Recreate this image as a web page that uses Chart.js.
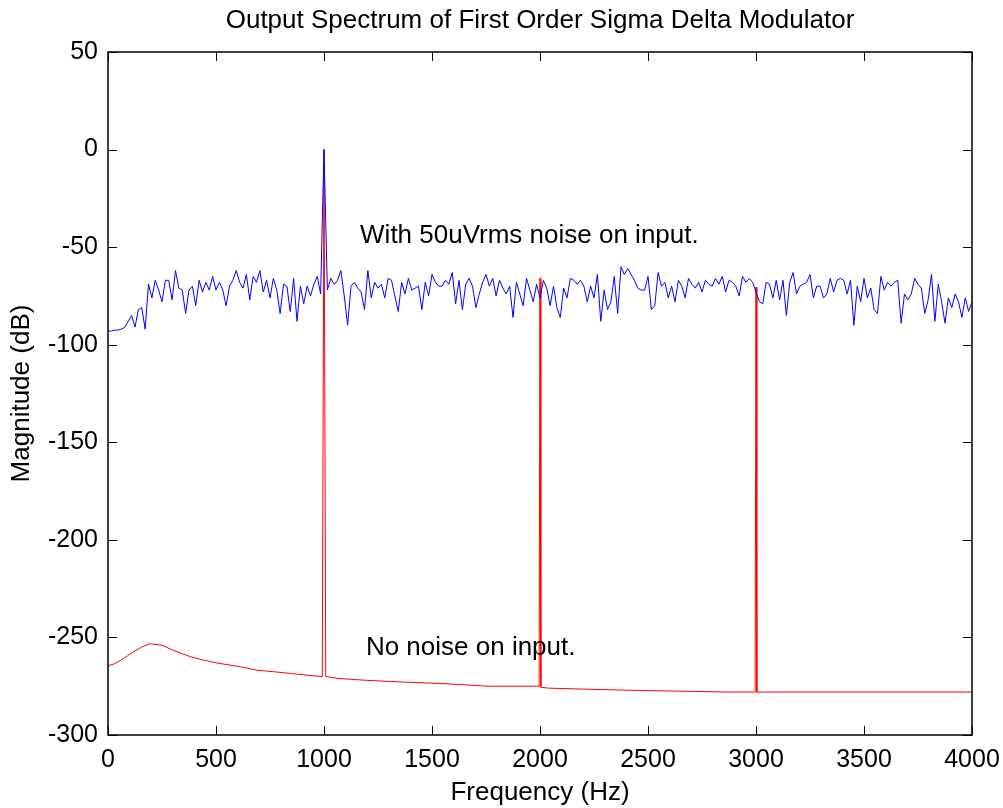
<!DOCTYPE html>
<html><head><meta charset="utf-8">
<script src="https://cdn.jsdelivr.net/npm/chart.js@4.4.0/dist/chart.umd.min.js"></script>
<style>html,body{margin:0;padding:0;background:#fff;}canvas{display:block;}</style>
</head><body>
<canvas id="c" width="1003" height="808"></canvas>
<script>
const TITLE = 'Output Spectrum of First Order Sigma Delta Modulator';
const X_LABEL = 'Frequency (Hz)';
const Y_LABEL = 'Magnitude (dB)';
const X_TICKS = [0, 500, 1000, 1500, 2000, 2500, 3000, 3500, 4000];
const Y_TICKS = [-300, -250, -200, -150, -100, -50, 0, 50];

// Blue trace: spectrum with 50uVrms input noise, one value per FFT bin
const BIN_HZ = 15.625;
const withNoiseDb = [
  -93,-93,-92.5,-92.5,-92,-91,-88,-85,-91,-82,
  -81,-92,-69,-76,-67,-72,-78,-67,-67,-77,
  -62,-71,-72,-84,-72,-70,-80,-67,-73,-68,
  -72,-65,-72,-68,-72,-80,-70,-67,-62,-68,
  -71,-64,-77,-65,-68,-62,-73,-67,-76,-66,
  -72,-84,-69,-70,-83,-66,-88,-70,-79,-70,
  -75,-69,-65,-74,0,-72,-66,-69,-67,-62,
  -75,-90,-70,-68,-71,-73,-82,-62,-76,-68,
  -71,-69,-76,-66,-67,-75,-83,-68,-74,-66,
  -72,-71,-70,-82,-68,-75,-64,-68,-70,-70,
  -67,-69,-63,-79,-67,-82,-69,-66,-70,-81,
  -74,-68,-64,-70,-66,-75,-67,-71,-74,-70,
  -86,-68,-74,-80,-66,-72,-78,-69,-76,-67,
  -71,-80,-70,-81,-86,-71,-76,-66,-67,-69,
  -67,-70,-78,-70,-76,-64,-88,-72,-82,-78,
  -65,-84,-60,-64,-61,-64,-67,-71,-72,-72,
  -65,-82,-80,-63,-70,-68,-76,-70,-78,-67,
  -70,-76,-66,-69,-71,-68,-73,-67,-69,-70,
  -66,-69,-65,-73,-67,-68,-70,-75,-65,-68,
  -66,-68,-73,-78,-79,-68,-69,-76,-67,-77,
  -67,-85,-68,-63,-74,-70,-69,-68,-64,-76,
  -70,-70,-76,-74,-66,-73,-67,-66,-67,-74,
  -67,-90,-70,-78,-66,-76,-71,-82,-84,-65,
  -72,-68,-70,-68,-67,-89,-74,-77,-74,-66,
  -69,-71,-84,-77,-64,-88,-69,-78,-89,-76,
  -81,-74,-78,-86,-76,-83,-78
];

// Red trace: spectrum with no input noise
const noNoiseHz = [0,30,70,115,155,195,250,290,335,380,430,500,610,690,770,850,950,992,1000,1008,
  1065,1200,1350,1540,1760,1996,2000,2004,2040,2385,2870,2996,3000,3004,4000];
const noNoiseDb = [-264.5,-263.5,-261,-257.5,-255,-253.2,-254,-256,-258,-259.8,-261.3,-263,-265,-266.8,-267.6,-268.5,-269.7,-270,0,-270,
  -271,-272,-272.8,-273.6,-275,-275,-66,-275.5,-276,-277,-278,-278,-70.5,-278,-278];

const ANNOTATIONS = [
  { text: 'With 50uVrms noise on input.', x: 1167, y: -44 },
  { text: 'No noise on input.', x: 1194, y: -255.5 }
];

const FONT = '"Liberation Sans", Arial, Helvetica, sans-serif';

const blueData = withNoiseDb.map((v, i) => ({ x: i * BIN_HZ, y: v }));
const redData = noNoiseHz.map((h, i) => ({ x: h, y: noNoiseDb[i] }));

const boxPlugin = {
  id: 'boxTicks',
  afterDraw(chart) {
    const { ctx, chartArea: a, scales: { x, y } } = chart;
    const L = 9;
    ctx.save();
    ctx.strokeStyle = '#000';
    ctx.lineWidth = 1;
    ctx.beginPath();
    X_TICKS.forEach(v => {
      const px = Math.round(x.getPixelForValue(v)) + 0.5;
      ctx.moveTo(px, a.bottom); ctx.lineTo(px, a.bottom - L);
      ctx.moveTo(px, a.top); ctx.lineTo(px, a.top + L);
    });
    Y_TICKS.forEach(v => {
      const py = Math.round(y.getPixelForValue(v)) + 0.5;
      ctx.moveTo(a.left, py); ctx.lineTo(a.left + L, py);
      ctx.moveTo(a.right, py); ctx.lineTo(a.right - L, py);
    });
    ctx.stroke();
    ctx.lineWidth = 1.5;
    ctx.strokeRect(Math.round(a.left), Math.round(a.top), Math.round(a.right - a.left), Math.round(a.bottom - a.top));
    ctx.restore();
  }
};

const annotPlugin = {
  id: 'annot',
  afterDatasetsDraw(chart) {
    const { ctx, scales: { x, y } } = chart;
    ctx.save();
    ctx.font = '26px ' + FONT;
    ctx.fillStyle = '#000';
    ctx.textAlign = 'left';
    ctx.textBaseline = 'middle';
    ANNOTATIONS.forEach(a => ctx.fillText(a.text, x.getPixelForValue(a.x), y.getPixelForValue(a.y)));
    ctx.restore();
  }
};

Chart.defaults.color = '#000';
Chart.defaults.font.family = FONT;

new Chart(document.getElementById('c'), {
  type: 'line',
  data: {
    datasets: [
      { label: 'With noise', data: blueData, borderColor: '#0000ff', borderWidth: 1, pointRadius: 0, tension: 0, fill: false },
      { label: 'No noise', data: redData, borderColor: '#ff0000', borderWidth: 1, pointRadius: 0, tension: 0, fill: false }
    ]
  },
  options: {
    responsive: false,
    animation: false,
    events: [],
    layout: { padding: { left: 0, right: 31, top: 0, bottom: 0 } },
    plugins: {
      legend: { display: false },
      tooltip: { enabled: false },
      title: { display: true, fullSize: false, text: TITLE, color: '#000', font: { size: 26, weight: 'normal', family: FONT }, padding: { top: 5, bottom: 15.8 } }
    },
    scales: {
      x: {
        type: 'linear', min: 0, max: 4000,
        afterBuildTicks: s => { s.ticks = X_TICKS.map(v => ({ value: v })); },
        afterFit: s => { s.height = 73; s.paddingRight = 0; s.paddingLeft = 0; },
        grid: { display: false, drawTicks: false },
        border: { display: false },
        ticks: { font: { size: 25, family: FONT }, color: '#000', padding: 10, maxRotation: 0, autoSkip: false, callback: v => String(v) },
        title: { display: true, text: X_LABEL, color: '#000', font: { size: 26, family: FONT }, padding: { top: 0, bottom: 0 } }
      },
      y: {
        type: 'linear', min: -300, max: 50,
        afterBuildTicks: s => { s.ticks = Y_TICKS.map(v => ({ value: v })); },
        afterFit: s => { s.width = 108; },
        grid: { display: false, drawTicks: false },
        border: { display: false },
        ticks: { font: { size: 25, family: FONT }, color: '#000', padding: 10, autoSkip: false, callback: v => String(v) },
        title: { display: true, text: Y_LABEL, color: '#000', font: { size: 26, family: FONT }, padding: { top: 6, bottom: 0 } }
      }
    }
  },
  plugins: [annotPlugin, boxPlugin]
});
</script>
</body></html>
